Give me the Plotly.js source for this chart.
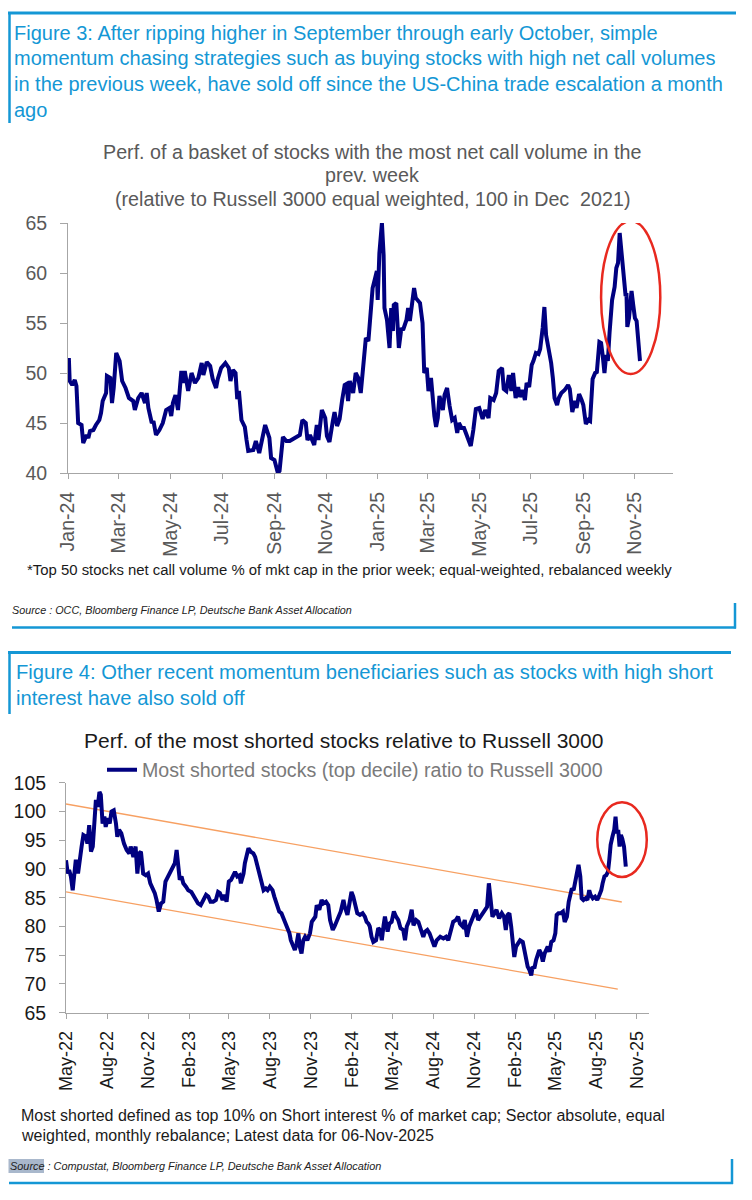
<!DOCTYPE html>
<html>
<head>
<meta charset="utf-8">
<script src="https://cdn.plot.ly/plotly-3.0.1.min.js"></script>
<style>
  html, body { margin: 0; padding: 0; background: #ffffff; }
  #chart { width: 752px; height: 1200px; }
</style>
</head>
<body>
<div id="chart"></div>
<script>
// ---------------- DATA: Figure 3 ----------------
const fig3Dates = [
 '2024-01-02','2024-01-03','2024-01-06','2024-01-09','2024-01-11','2024-01-13','2024-01-17','2024-01-19','2024-01-23','2024-01-25',
 '2024-01-27','2024-01-31','2024-02-03','2024-02-07','2024-02-09','2024-02-11','2024-02-15','2024-02-16','2024-02-20','2024-02-22',
 '2024-02-24','2024-02-27','2024-03-02','2024-03-05','2024-03-09','2024-03-13','2024-03-18','2024-03-20','2024-03-24','2024-03-28',
 '2024-04-01','2024-04-03','2024-04-05','2024-04-09','2024-04-11','2024-04-14','2024-04-18','2024-04-22','2024-04-26','2024-04-30',
 '2024-05-02','2024-05-04','2024-05-07','2024-05-10','2024-05-14','2024-05-16','2024-05-18','2024-05-22','2024-05-26','2024-05-30',
 '2024-06-03','2024-06-07','2024-06-09','2024-06-13','2024-06-17','2024-06-20','2024-06-24','2024-06-26','2024-06-30','2024-07-05',
 '2024-07-09','2024-07-11','2024-07-14','2024-07-17','2024-07-19','2024-07-21','2024-07-24','2024-07-28','2024-07-30','2024-08-01',
 '2024-08-07','2024-08-10','2024-08-14','2024-08-19','2024-08-21','2024-08-26','2024-08-28','2024-09-01','2024-09-05','2024-09-07',
 '2024-09-11','2024-09-15','2024-09-19','2024-09-23','2024-09-27','2024-10-01','2024-10-04','2024-10-08','2024-10-10','2024-10-13',
 '2024-10-16','2024-10-18','2024-10-21','2024-10-23','2024-10-27','2024-10-31','2024-11-02','2024-11-05','2024-11-09','2024-11-11',
 '2024-11-14','2024-11-17','2024-11-20','2024-11-23','2024-11-25','2024-11-27','2024-11-29','2024-12-03','2024-12-06','2024-12-09',
 '2024-12-12','2024-12-15','2024-12-18','2024-12-21','2024-12-23','2024-12-26','2024-12-29','2024-12-31',
 '2025-01-01','2025-01-03','2025-01-06','2025-01-08','2025-01-09','2025-01-12','2025-01-15','2025-01-17','2025-01-19','2025-01-20',
 '2025-01-23','2025-01-26','2025-01-29','2025-01-31','2025-02-04','2025-02-06','2025-02-08','2025-02-11','2025-02-13','2025-02-15',
 '2025-02-20','2025-02-23','2025-02-25','2025-02-28','2025-03-02','2025-03-05','2025-03-07','2025-03-09','2025-03-11','2025-03-13',
 '2025-03-15','2025-03-19','2025-03-21','2025-03-24','2025-03-27','2025-03-30','2025-04-02','2025-04-05','2025-04-07','2025-04-10',
 '2025-04-13','2025-04-17','2025-04-21','2025-04-24','2025-04-27','2025-05-01','2025-05-05','2025-05-08','2025-05-12','2025-05-14',
 '2025-05-18','2025-05-21','2025-05-24','2025-05-28','2025-05-30','2025-06-02','2025-06-05','2025-06-08','2025-06-10','2025-06-13',
 '2025-06-16','2025-06-18','2025-06-21','2025-06-24','2025-06-26','2025-06-29','2025-07-02','2025-07-04','2025-07-07','2025-07-10',
 '2025-07-12','2025-07-15','2025-07-17','2025-07-19','2025-07-23','2025-07-25','2025-07-27','2025-07-29','2025-08-01','2025-08-03',
 '2025-08-06','2025-08-10','2025-08-14','2025-08-16','2025-08-19','2025-08-22','2025-08-24','2025-08-27','2025-08-30','2025-09-01',
 '2025-09-04','2025-09-07','2025-09-09','2025-09-12','2025-09-15','2025-09-17','2025-09-20','2025-09-22','2025-09-24','2025-09-26',
 '2025-09-28','2025-09-30','2025-10-02','2025-10-05','2025-10-08','2025-10-10','2025-10-12','2025-10-14','2025-10-17','2025-10-19',
 '2025-10-21','2025-10-22','2025-10-23','2025-10-25','2025-10-27','2025-10-28','2025-10-30','2025-11-01','2025-11-03','2025-11-05',
 '2025-11-07'
];
const fig3Values = [
 51.5,49.2,48.8,49.3,48.7,45.0,44.8,43.0,43.8,43.5,
 44.2,44.3,44.8,45.3,46.0,47.2,48.0,49.7,49.5,47.0,
 48.5,52.0,51.2,49.2,48.5,47.5,47.2,46.3,47.5,48.0,
 47.0,48.0,46.5,45.0,45.2,43.8,44.3,45.0,46.3,46.5,
 45.7,47.0,47.8,46.3,50.2,49.0,50.2,48.2,50.0,49.0,
 49.5,51.0,49.8,51.1,50.7,49.4,48.5,49.4,50.5,51.0,
 50.5,49.2,50.3,50.0,47.4,48.2,45.3,44.6,43.3,42.2,
 42.3,43.2,42.0,44.2,44.8,43.5,41.5,41.3,40.0,40.2,
 43.6,43.2,43.2,43.4,43.6,43.8,45.3,45.0,43.3,43.8,
 43.2,42.8,44.8,43.3,46.3,45.5,43.7,43.1,45.2,46.1,
 44.7,45.4,47.3,48.8,48.9,47.2,49.2,48.0,50.0,49.5,
 48.0,51.0,53.5,53.2,55.5,58.5,59.5,60.2,
 57.3,62.0,65.0,61.8,56.5,55.3,52.5,56.5,54.2,56.8,
 57.0,52.5,54.5,54.3,55.3,56.5,55.2,56.8,58.5,57.5,
 57.0,55.0,50.0,50.5,48.2,49.5,47.2,45.7,44.6,45.5,
 47.7,46.3,47.8,48.5,46.7,45.3,45.5,44.0,45.0,44.5,
 44.5,43.5,42.7,44.3,46.4,46.5,45.4,46.3,45.5,47.5,
 47.3,48.0,50.2,50.5,48.4,48.2,49.8,48.2,50.0,47.5,
 48.6,47.6,48.3,47.3,49.0,48.6,50.8,51.2,52.0,51.9,
 52.4,54.5,56.6,53.8,52.0,51.0,49.5,47.5,46.8,47.5,
 48.0,48.3,48.8,48.4,46.1,47.2,46.5,47.9,47.3,46.8,
 44.9,45.3,45.2,49.4,50.0,50.1,53.1,53.0,51.7,50.0,
 51.8,51.2,54.0,57.3,58.6,60.5,61.0,64.0,61.3,59.4,
 57.7,58.0,54.6,55.5,57.5,58.2,56.8,55.5,55.2,53.5,
 51.2
];
const fig3TickVals = ['2024-01-01','2024-03-01','2024-05-01','2024-07-01','2024-09-01','2024-11-01',
                      '2025-01-01','2025-03-01','2025-05-01','2025-07-01','2025-09-01','2025-11-01'];
const fig3TickText = ['Jan-24','Mar-24','May-24','Jul-24','Sep-24','Nov-24',
                      'Jan-25','Mar-25','May-25','Jul-25','Sep-25','Nov-25'];
const fig3XRange = ['2024-01-01','2025-12-16'];
const fig3YRange = [40, 65];
// highlighted region (red ellipse)
const fig3HighlightX = ['2025-09-22','2025-12-01'];
const fig3HighlightY = [49.9, 65.2];

// ---------------- DATA: Figure 4 ----------------
const fig4Dates = [
 '2022-05-01','2022-05-05','2022-05-08','2022-05-12','2022-05-16','2022-05-19','2022-05-23','2022-05-28','2022-06-01','2022-06-05',
 '2022-06-09','2022-06-15','2022-06-18','2022-06-22','2022-06-26','2022-06-30','2022-07-04','2022-07-07','2022-07-11','2022-07-15',
 '2022-07-18','2022-07-22','2022-07-26','2022-07-29','2022-08-02','2022-08-07','2022-08-11','2022-08-16','2022-08-21','2022-08-24',
 '2022-08-28','2022-09-02','2022-09-08','2022-09-14','2022-09-20','2022-09-23','2022-09-29','2022-10-04','2022-10-08','2022-10-12',
 '2022-10-16','2022-10-21','2022-10-27','2022-11-01','2022-11-06','2022-11-11','2022-11-16','2022-11-20','2022-11-25','2022-11-30',
 '2022-12-05','2022-12-10','2022-12-16','2022-12-21','2022-12-26','2022-12-31','2023-01-04','2023-01-08','2023-01-11','2023-01-15',
 '2023-01-19','2023-01-25','2023-01-30','2023-02-06','2023-02-13','2023-02-21','2023-02-27','2023-03-05','2023-03-11','2023-03-16',
 '2023-03-21','2023-03-27','2023-04-02','2023-04-07','2023-04-11','2023-04-17','2023-04-21','2023-04-26','2023-05-01','2023-05-06',
 '2023-05-11','2023-05-15','2023-05-20','2023-05-25','2023-05-28','2023-06-03','2023-06-06','2023-06-10','2023-06-14','2023-06-19',
 '2023-06-25','2023-06-29','2023-07-04','2023-07-09','2023-07-12','2023-07-18','2023-07-23','2023-07-27','2023-08-01','2023-08-07',
 '2023-08-11','2023-08-16','2023-08-22','2023-08-27','2023-09-02','2023-09-06','2023-09-10','2023-09-14','2023-09-17','2023-09-22',
 '2023-09-26','2023-09-30','2023-10-04','2023-10-07','2023-10-11','2023-10-15','2023-10-19','2023-10-24','2023-10-30','2023-11-03',
 '2023-11-06','2023-11-11','2023-11-14','2023-11-20','2023-11-25','2023-11-29','2023-12-05','2023-12-10','2023-12-14','2023-12-20',
 '2023-12-24','2023-12-29','2024-01-03','2024-01-07','2024-01-13','2024-01-16','2024-01-22','2024-01-26','2024-01-31','2024-02-04',
 '2024-02-08','2024-02-13','2024-02-19','2024-02-25','2024-03-01','2024-03-05','2024-03-09','2024-03-12','2024-03-16','2024-03-20',
 '2024-03-26','2024-03-31','2024-04-04','2024-04-08','2024-04-12','2024-04-15','2024-04-21','2024-04-25','2024-04-30','2024-05-05',
 '2024-05-10','2024-05-15','2024-05-20','2024-05-26','2024-05-30','2024-06-03','2024-06-09','2024-06-14','2024-06-18','2024-06-24',
 '2024-06-29','2024-07-04','2024-07-10','2024-07-14','2024-07-19','2024-07-24','2024-07-29','2024-08-04','2024-08-09','2024-08-17',
 '2024-08-24','2024-08-30','2024-09-04','2024-09-09','2024-09-15','2024-09-21','2024-09-26','2024-09-30','2024-10-06','2024-10-11',
 '2024-10-16','2024-10-21','2024-10-26','2024-11-01','2024-11-05','2024-11-10','2024-11-15','2024-11-21','2024-11-25','2024-11-30',
 '2024-12-04','2024-12-08','2024-12-12','2024-12-17','2024-12-21','2024-12-27','2025-01-02','2025-01-07','2025-01-11','2025-01-15',
 '2025-01-19','2025-01-23','2025-01-27','2025-01-30','2025-02-03','2025-02-07','2025-02-12','2025-02-18','2025-02-22','2025-02-25',
 '2025-03-01','2025-03-05','2025-03-09','2025-03-12','2025-03-16','2025-03-20','2025-03-24','2025-03-27','2025-03-31','2025-04-04',
 '2025-04-08','2025-04-11','2025-04-15','2025-04-19','2025-04-23','2025-04-28','2025-05-02','2025-05-05','2025-05-09','2025-05-14',
 '2025-05-19','2025-05-23','2025-05-28','2025-06-01','2025-06-04','2025-06-08','2025-06-12','2025-06-15','2025-06-19','2025-06-23',
 '2025-06-27','2025-06-30','2025-07-04','2025-07-09','2025-07-13','2025-07-17','2025-07-20','2025-07-25','2025-07-30','2025-08-04',
 '2025-08-09','2025-08-13','2025-08-16','2025-08-20','2025-08-24','2025-08-28','2025-08-31','2025-09-03','2025-09-07','2025-09-11',
 '2025-09-14','2025-09-17','2025-09-20','2025-09-23','2025-09-26','2025-09-29','2025-10-03','2025-10-07'
];
const fig4Values = [
 91.5,89.2,89.8,88.7,86.3,88.1,91.6,89.2,92.1,93.9,
 95.9,95.6,94.4,97.6,93.0,93.9,98.5,102.0,100.8,103.4,
 102.9,97.9,99.1,97.3,98.8,97.9,100.0,100.2,97.9,95.6,
 96.8,96.2,94.4,93.3,92.7,93.9,92.1,93.9,89.2,92.7,
 93.0,89.2,88.9,89.2,87.5,86.6,85.8,84.6,82.6,84.0,
 84.3,87.8,88.7,89.2,90.1,91.0,93.3,89.8,88.1,88.7,
 87.5,86.9,86.3,86.0,85.2,84.0,83.7,84.6,85.5,85.2,
 84.3,84.3,84.6,86.0,85.8,84.6,85.5,84.3,87.8,88.1,
 88.9,89.5,88.7,88.9,87.5,89.2,91.0,92.7,93.6,93.0,
 92.7,92.1,90.4,89.2,88.1,86.3,86.6,86.3,86.9,86.3,
 85.2,84.0,82.6,82.3,81.1,80.5,79.7,78.8,77.6,76.8,
 75.9,77.0,78.8,76.5,75.3,77.6,78.2,77.6,78.8,80.8,
 81.1,81.7,83.7,82.9,84.6,84.0,84.3,83.7,81.1,79.4,
 80.0,81.1,81.7,82.6,84.6,83.4,82.0,84.3,86.0,85.2,
 83.7,82.3,82.0,82.3,81.7,80.8,80.5,80.0,78.2,77.3,
 77.6,79.7,79.4,77.6,80.2,81.7,79.1,80.5,80.8,82.6,
 81.7,81.1,79.7,79.4,77.6,80.0,81.1,82.9,80.2,81.1,
 80.8,79.7,78.2,79.1,79.4,78.8,77.6,76.5,77.6,78.2,
 77.9,78.2,77.6,79.1,80.8,81.1,81.7,80.5,80.0,81.1,
 78.2,80.0,81.1,82.3,82.9,81.1,81.7,82.3,82.6,83.4,
 87.5,84.6,81.7,82.3,82.9,81.4,82.3,81.7,79.4,82.0,
 82.3,80.0,77.6,74.7,76.5,77.1,77.6,77.3,75.9,74.7,
 73.0,72.4,71.5,73.0,72.7,74.2,75.6,75.9,75.3,73.9,
 75.3,75.9,76.5,75.6,77.3,77.6,78.8,82.0,82.3,82.3,
 82.6,80.8,81.7,84.3,85.2,86.6,86.3,87.5,88.7,90.7,
 88.7,84.9,84.6,84.9,84.6,86.3,85.5,84.9,85.2,84.6,
 85.5,86.3,87.5,88.7,88.9,89.5,91.6,94.2,95.6,96.8,
 99.1,96.2,96.8,93.9,95.9,95.3,93.9,90.4
];
// channel (trend) lines
const fig4UpperDates = ['2022-05-01','2025-09-28'];
const fig4UpperValues = [101.3, 84.25];
const fig4LowerDates = ['2022-05-01','2025-09-19'];
const fig4LowerValues = [86.0, 69.1];
const fig4TickVals = ['2022-05-01','2022-08-01','2022-11-01','2023-02-01','2023-05-01','2023-08-01','2023-11-01','2024-02-01',
                      '2024-05-01','2024-08-01','2024-11-01','2025-02-01','2025-05-01','2025-08-01','2025-11-01'];
const fig4TickText = ['May-22','Aug-22','Nov-22','Feb-23','May-23','Aug-23','Nov-23','Feb-24',
                      'May-24','Aug-24','Nov-24','Feb-25','May-25','Aug-25','Nov-25'];
const fig4XRange = ['2022-05-01','2025-11-28'];
const fig4YRange = [65, 105];
const fig4HighlightX = ['2025-08-04','2025-11-23'];
const fig4HighlightY = [88.6, 101.6];

// ---------------- TEXT ----------------
const fig3Caption = [
 'Figure 3: After ripping higher in September through early October, simple',
 'momentum chasing strategies such as buying stocks with high net call volumes',
 'in the previous week, have sold off since the US-China trade escalation a month',
 'ago'
];
const fig3Title = [
 'Perf. of a basket of stocks with the most net call volume in the',
 'prev. week',
 '(relative to Russell 3000 equal weighted, 100 in Dec  2021)'
];
const fig3Note = '*Top 50 stocks net call volume % of mkt cap in the prior week; equal-weighted, rebalanced weekly';
const fig3Source = 'Source : OCC, Bloomberg Finance LP, Deutsche Bank Asset Allocation';
const fig4Caption = [
 'Figure 4: Other recent momentum beneficiaries such as stocks with high short',
 'interest have also sold off'
];
const fig4Title = 'Perf. of the most shorted stocks relative to Russell 3000';
const fig4SeriesName = 'Most shorted stocks (top decile) ratio to Russell 3000';
const fig4Note = [
 'Most shorted defined as top 10% on Short interest % of market cap; Sector absolute, equal',
 'weighted, monthly rebalance; Latest data for 06-Nov-2025'
];
const fig4Source = 'Source : Compustat, Bloomberg Finance LP, Deutsche Bank Asset Allocation';

// ---------------- LAYOUT HELPERS (page pixels -> paper) ----------------
const W = 752, H = 1200;
const px = x => x / W;
const py = y => 1 - y / H;

const BLUE = '#1497d5';
const NAVY = '#000080';
const AXIS = '#a6a6a6';
const GREY_TXT = '#595959';
const DARK_TXT = '#1a1a1a';
const FONT = 'Liberation Sans, Arial, Helvetica, sans-serif';

const traces = [
  {
    x: fig3Dates, y: fig3Values, type: 'scatter', mode: 'lines',
    xaxis: 'x', yaxis: 'y', name: 'Net call volume basket',
    line: { color: NAVY, width: 4 }, showlegend: false, hoverinfo: 'skip'
  },
  {
    x: fig4UpperDates, y: fig4UpperValues, type: 'scatter', mode: 'lines',
    xaxis: 'x2', yaxis: 'y3', name: 'Upper channel',
    line: { color: '#f7a062', width: 1.3 }, showlegend: false, hoverinfo: 'skip'
  },
  {
    x: fig4LowerDates, y: fig4LowerValues, type: 'scatter', mode: 'lines',
    xaxis: 'x2', yaxis: 'y3', name: 'Lower channel',
    line: { color: '#f7a062', width: 1.3 }, showlegend: false, hoverinfo: 'skip'
  },
  {
    x: fig4Dates, y: fig4Values, type: 'scatter', mode: 'lines',
    xaxis: 'x2', yaxis: 'y3', name: fig4SeriesName,
    line: { color: NAVY, width: 4 }, showlegend: true, hoverinfo: 'skip'
  }
];

function yAx(domain, range, color, side, overlay, anchor, standoff, len) {
  const a = {
    domain: domain, range: range, dtick: 5, tick0: range[0],
    showline: true, linecolor: AXIS, linewidth: 1,
    ticks: 'outside', ticklen: len, tickcolor: AXIS, tickwidth: 1,
    tickfont: { family: FONT, size: 19.5, color: color },
    showgrid: false, zeroline: false, fixedrange: true,
    side: side, anchor: anchor, ticklabelstandoff: standoff
  };
  if (overlay) a.overlaying = overlay;
  return a;
}
function xAx(domain, range, vals, text, color, anchor, size) {
  return {
    domain: domain, type: 'date', range: range,
    tickmode: 'array', tickvals: vals, ticktext: text, tickangle: -90,
    showline: true, linecolor: AXIS, linewidth: 1,
    ticks: 'outside', ticklen: 5, tickcolor: AXIS, tickwidth: 1,
    tickfont: { family: FONT, size: size, color: color },
    showgrid: false, zeroline: false, fixedrange: true, anchor: anchor,
    ticklabelstandoff: 5
  };
}

const ann = [];
function txt(text, x, y, size, color, xanchor, extra) {
  ann.push(Object.assign({
    text: text, x: px(x), y: py(y), xref: 'paper', yref: 'paper',
    xanchor: xanchor || 'left', yanchor: 'middle', showarrow: false,
    font: { family: FONT, size: size, color: color }
  }, extra || {}));
}
const capY3 = [33, 58, 84, 110];
fig3Caption.forEach((t, i) => txt(t, 12, capY3[i], 20, BLUE));
const titleY3 = [152, 175, 199];
fig3Title.forEach((t, i) => txt(t, 372, titleY3[i], 19.7, GREY_TXT, 'center'));
txt(fig3Note, 25, 570, 14.9, DARK_TXT);
txt('<i>' + fig3Source + '</i>', 10, 610, 10.8, '#222222');
const capY4 = [672, 698];
fig4Caption.forEach((t, i) => txt(t, 14, capY4[i], 20.2, BLUE));
txt(fig4Title, 343, 740, 21, DARK_TXT, 'center');
const noteY4 = [1115, 1135];
fig4Note.forEach((t, i) => txt(t, 19, noteY4[i], 16, DARK_TXT));
txt('<i>' + fig4Source + '</i>', 8, 1166, 10.9, '#222222');

function seg(x0, y0, x1, y1, w) {
  return { type: 'line', xref: 'paper', yref: 'paper',
    x0: px(x0), y0: py(y0), x1: px(x1), y1: py(y1),
    line: { color: BLUE, width: w } };
}
const shapes = [
  // Figure 3 frame
  seg(8, 13, 736, 13, 3), seg(9.5, 12, 9.5, 123, 2.5),
  seg(12, 627.5, 736, 627.5, 2.5), seg(735, 603, 735, 628.5, 2.5),
  // Figure 4 frame
  seg(8, 652.5, 731, 652.5, 3), seg(9.5, 651, 9.5, 714, 2.5),
  seg(9, 1183, 733, 1183, 2.5), seg(732, 1159, 732, 1184, 2.5),
  // "Source" highlight
  { type: 'rect', xref: 'paper', yref: 'paper', layer: 'below',
    x0: px(8.5), x1: px(44), y0: py(1159), y1: py(1173),
    fillcolor: '#a9b8cc', line: { width: 0 } },
  // red ellipses
  { type: 'circle', xref: 'x', yref: 'y',
    x0: fig3HighlightX[0], x1: fig3HighlightX[1], y0: fig3HighlightY[0], y1: fig3HighlightY[1],
    line: { color: '#e8291f', width: 2.5 } },
  { type: 'circle', xref: 'x2', yref: 'y3',
    x0: fig4HighlightX[0], x1: fig4HighlightX[1], y0: fig4HighlightY[0], y1: fig4HighlightY[1],
    line: { color: '#e8291f', width: 2.5 } }
];

const d1y = [py(473), py(223)];
const d2y = [py(1012.7), py(782.7)];

const layout = {
  width: W, height: H, autosize: false,
  margin: { l: 0, r: 0, t: 0, b: 0, pad: 0 },
  paper_bgcolor: '#ffffff', plot_bgcolor: 'rgba(0,0,0,0)',
  font: { family: FONT },
  showlegend: true,
  legend: {
    x: px(102), y: py(770), xanchor: 'left', yanchor: 'middle',
    bgcolor: 'rgba(0,0,0,0)', borderwidth: 0,
    font: { family: FONT, size: 19.6, color: '#7a7a7a' }
  },
  xaxis: xAx([px(68), px(673)], fig3XRange, fig3TickVals, fig3TickText, GREY_TXT, 'y', 19.5),
  yaxis: yAx(d1y, fig3YRange, GREY_TXT, 'left', null, 'x', 9, 7),
  yaxis2: yAx(d1y, fig3YRange, GREY_TXT, 'right', 'y', 'x', 12, 7),
  xaxis2: xAx([px(66), px(649)], fig4XRange, fig4TickVals, fig4TickText, DARK_TXT, 'y3', 18),
  yaxis3: yAx(d2y, fig4YRange, DARK_TXT, 'left', null, 'x2', 9, 6),
  yaxis4: yAx(d2y, fig4YRange, DARK_TXT, 'right', 'y3', 'x2', 12, 6),
  annotations: ann,
  shapes: shapes
};

Plotly.newPlot('chart', traces, layout, { displayModeBar: false, staticPlot: true });
</script>
</body>
</html>
